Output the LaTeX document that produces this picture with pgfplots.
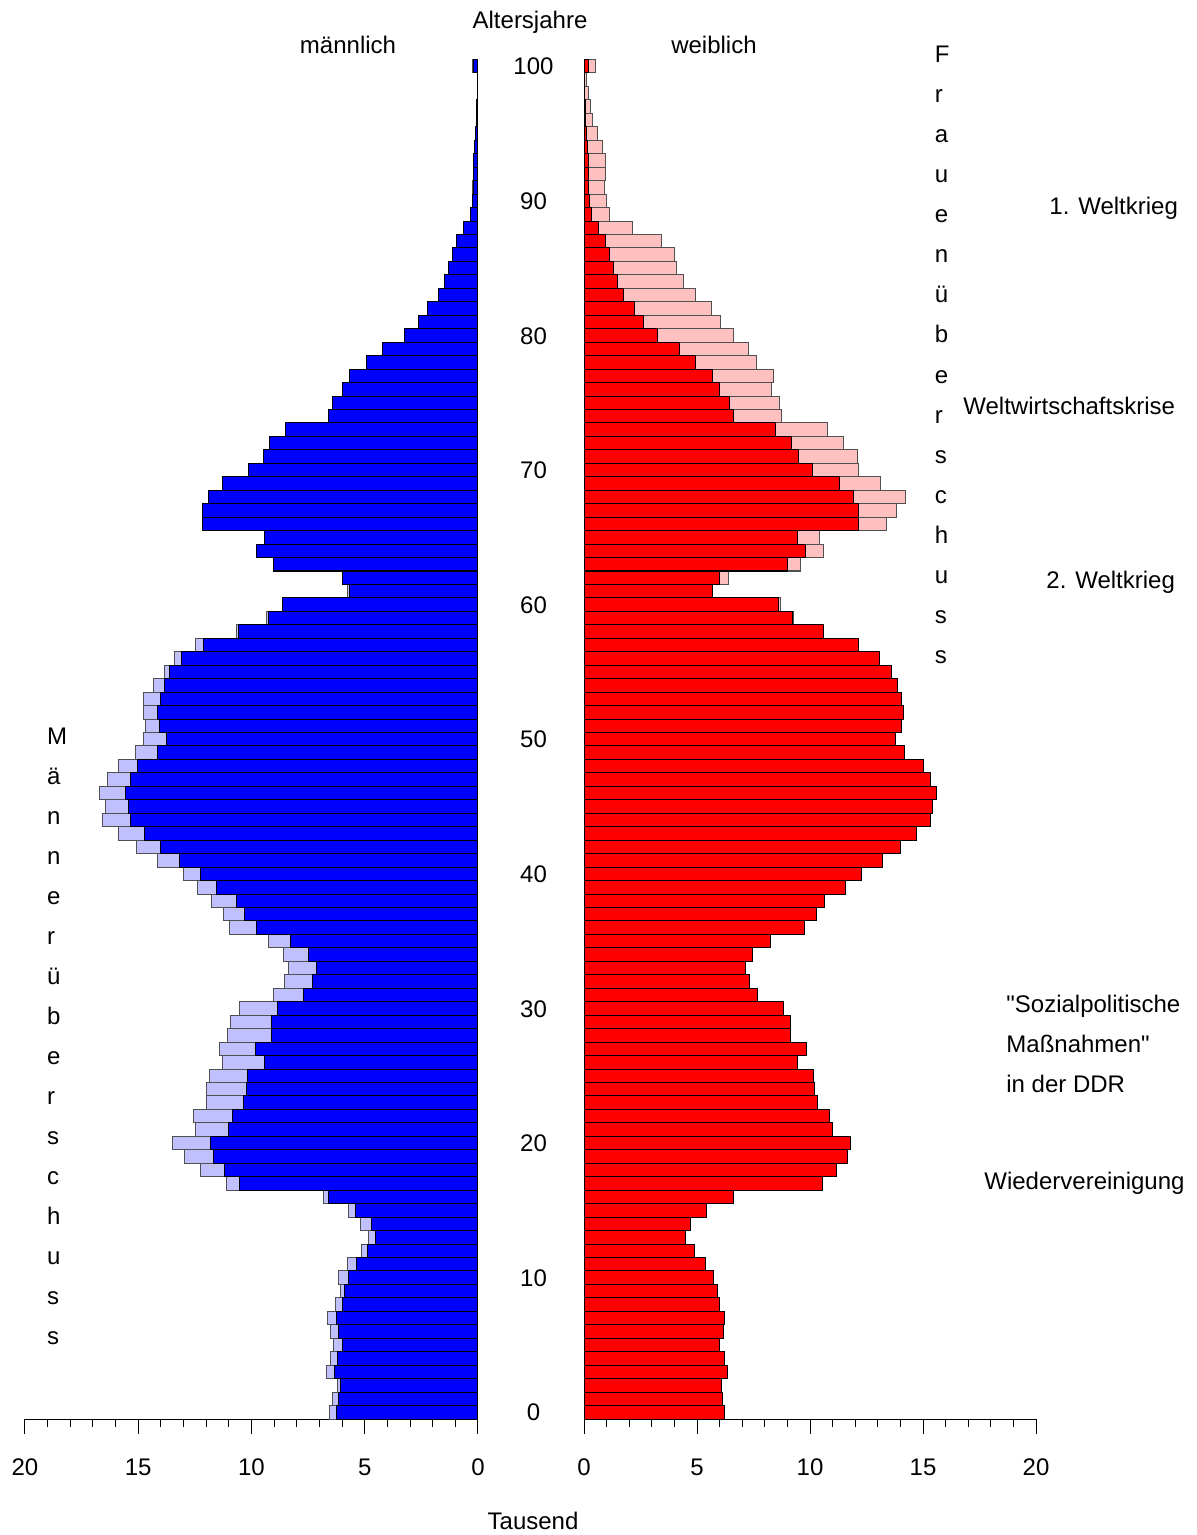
\documentclass[border=0pt]{standalone}
\usepackage{fontspec}
\setmainfont{Liberation Sans}
\newfontfamily\rawfont{Liberation Sans}[Ligatures=TeXOff]
\usepackage{pgfplots}
\pgfplotsset{compat=1.18}
\usepackage{pgfplotstable}
\definecolor{mblue}{RGB}{0,0,255}
\definecolor{mlight}{RGB}{192,192,255}
\definecolor{fred}{RGB}{255,0,0}
\definecolor{fpink}{RGB}{255,192,192}
\definecolor{edgegray}{RGB}{80,80,80}

% age, M = men total, F = women total, C = common part (dark bars)
\pgfplotstableread{
age M F C
100 0.24 0.53 0.20
99 0.03 0.10 0.03
98 0.03 0.22 0.03
97 0.05 0.28 0.05
96 0.08 0.37 0.07
95 0.10 0.59 0.09
94 0.15 0.81 0.14
93 0.20 0.94 0.18
92 0.20 0.94 0.18
91 0.23 0.90 0.22
90 0.25 0.99 0.24
89 0.33 1.12 0.32
88 0.62 2.14 0.62
87 0.93 3.42 0.93
86 1.12 4.00 1.12
85 1.30 4.10 1.30
84 1.50 4.40 1.50
83 1.75 4.93 1.75
82 2.25 5.66 2.25
81 2.62 6.02 2.62
80 3.24 6.61 3.24
79 4.22 7.30 4.22
78 4.93 7.65 4.93
77 5.68 8.39 5.68
76 5.98 8.30 5.98
75 6.42 8.66 6.42
74 6.62 8.72 6.62
73 8.49 10.78 8.49
72 9.19 11.47 9.19
71 9.48 12.09 9.48
70 10.12 12.14 10.12
69 11.30 13.14 11.30
68 11.92 14.22 11.92
67 12.15 13.82 12.15
66 12.15 13.38 12.15
65 9.44 10.41 9.44
64 9.79 10.58 9.79
63 9.01 9.60 9.01
62 6.00 6.39 6.00
61 5.77 5.69 5.69
60 8.62 8.68 8.62
59 9.33 9.25 9.24
58 10.68 10.58 10.58
57 12.47 12.13 12.13
56 13.41 13.07 13.07
55 13.82 13.61 13.61
54 14.33 13.86 13.86
53 14.76 14.03 14.03
52 14.75 14.15 14.15
51 14.66 14.05 14.05
50 14.76 13.77 13.77
49 15.11 14.17 14.17
48 15.86 15.02 15.02
47 16.37 15.32 15.32
46 16.69 15.58 15.58
45 16.44 15.41 15.41
44 16.57 15.35 15.35
43 15.86 14.73 14.73
42 15.07 14.01 14.01
41 14.14 13.20 13.20
40 13.01 12.27 12.27
39 12.39 11.55 11.55
38 11.76 10.66 10.66
37 11.23 10.29 10.29
36 10.96 9.76 9.76
35 9.24 8.27 8.27
34 8.57 7.47 7.47
33 8.36 7.14 7.14
32 8.54 7.31 7.31
31 9.02 7.69 7.69
30 10.54 8.84 8.84
29 10.92 9.13 9.13
28 11.04 9.13 9.13
27 11.43 9.84 9.84
26 11.29 9.44 9.44
25 11.85 10.16 10.16
24 11.99 10.20 10.20
23 11.99 10.34 10.34
22 12.55 10.85 10.85
21 12.49 11.00 11.00
20 13.47 11.80 11.80
19 12.95 11.68 11.68
18 12.23 11.19 11.19
17 11.11 10.54 10.54
16 6.84 6.61 6.61
15 5.72 5.40 5.40
14 5.20 4.72 4.72
13 4.83 4.51 4.51
12 5.14 4.90 4.90
11 5.77 5.37 5.37
10 6.17 5.73 5.73
9 6.06 5.90 5.90
8 6.27 5.98 5.98
7 6.64 6.23 6.23
6 6.52 6.18 6.18
5 6.39 6.00 6.00
4 6.50 6.22 6.22
3 6.67 6.34 6.34
2 6.19 6.08 6.08
1 6.43 6.15 6.15
0 6.55 6.23 6.23
}\pyr

\begin{document}
\begin{tikzpicture}[font=\fontsize{12}{14}\selectfont]
\useasboundingbox (0pt,0pt) rectangle (598pt,-767.5pt);
\pgfplotsset{
  pyr/.style={
    scale only axis,
    height=679.75pt,
    ymin=-0.5, ymax=100.5, xmin=0, xmax=20,
    axis x line*=bottom, axis y line*=left,
    y axis line style={draw=none},
    x axis line style={black, line width=0.5pt, -},
    xtick={0,5,10,15,20}, minor x tick num=4,
    tick align=outside,
    major tick length=7.5pt, minor tick length=3.75pt,
    tick style={black, line width=0.5pt},
    xticklabel style={anchor=base, yshift=-20.75pt, inner sep=0pt, font=\fontsize{12}{14}\selectfont},
    /pgf/number format/assume math mode=true,
    clip=false,
    bar width=1,
  },
  mbar/.style={xbar, bar shift=0pt, bar width=1, line width=0.5pt},
}
% left: men
\begin{axis}[pyr, at={(12.5pt,-709.5pt)}, anchor=south west, width=226.5pt,
  x dir=reverse, ytick=\empty]
  \addplot[mbar, fill=mlight, draw=edgegray] table[x=M, y=age] {\pyr};
  \addplot[mbar, fill=mblue, draw=black] table[x=C, y=age] {\pyr};
\end{axis}
% right: women
\begin{axis}[pyr, at={(292pt,-709.5pt)}, anchor=south west, width=226pt,
  ytick={0,10,...,100}, ytick style={draw=none},
  yticklabel style={anchor=base, xshift=-17.75pt, yshift=-4.3pt, inner sep=0pt, font=\fontsize{12}{14}\selectfont}]
  \addplot[mbar, fill=fpink, draw=edgegray] table[x=F, y=age] {\pyr};
  \addplot[mbar, fill=fred, draw=black] table[x=C, y=age] {\pyr};
\end{axis}

\begin{scope}[every node/.style={inner sep=0pt}]
\node[anchor=base] at (265pt,-14.25pt) {Altersjahre};
\node[anchor=base] at (174pt,-26.75pt) {männlich};
\node[anchor=base] at (357pt,-26.75pt) {weiblich};
\node[anchor=base] at (266.5pt,-764.75pt) {Tausend};
\foreach \ch [count=\k from 0] in {M,ä,n,n,e,r,ü,b,e,r,s,c,h,u,s,s}
  \node[anchor=base west] at (23.35pt,{-372.25pt-20pt*\k}) {\ch};
\foreach \ch [count=\k from 0] in {F,r,a,u,e,n,ü,b,e,r,s,c,h,u,s,s}
  \node[anchor=base west] at (467.25pt,{-31.5pt-20pt*\k}) {\ch};
\node[anchor=base west] at (524.5pt,-107.25pt) {1. Weltkrieg};
\node[anchor=base west] at (481.5pt,-207.5pt) {Weltwirtschaftskrise};
\node[anchor=base west] at (523pt,-294.25pt) {2. Weltkrieg};
\node[anchor=base west] at (503pt,-506.25pt) {{\rawfont "}Sozialpolitische};
\node[anchor=base west] at (503pt,-526.25pt) {Maßnahmen{\rawfont "}};
\node[anchor=base west] at (503pt,-546.25pt) {in der DDR};
\node[anchor=base west] at (492pt,-594.75pt) {Wiedervereinigung};
\end{scope}
\end{tikzpicture}
\end{document}
